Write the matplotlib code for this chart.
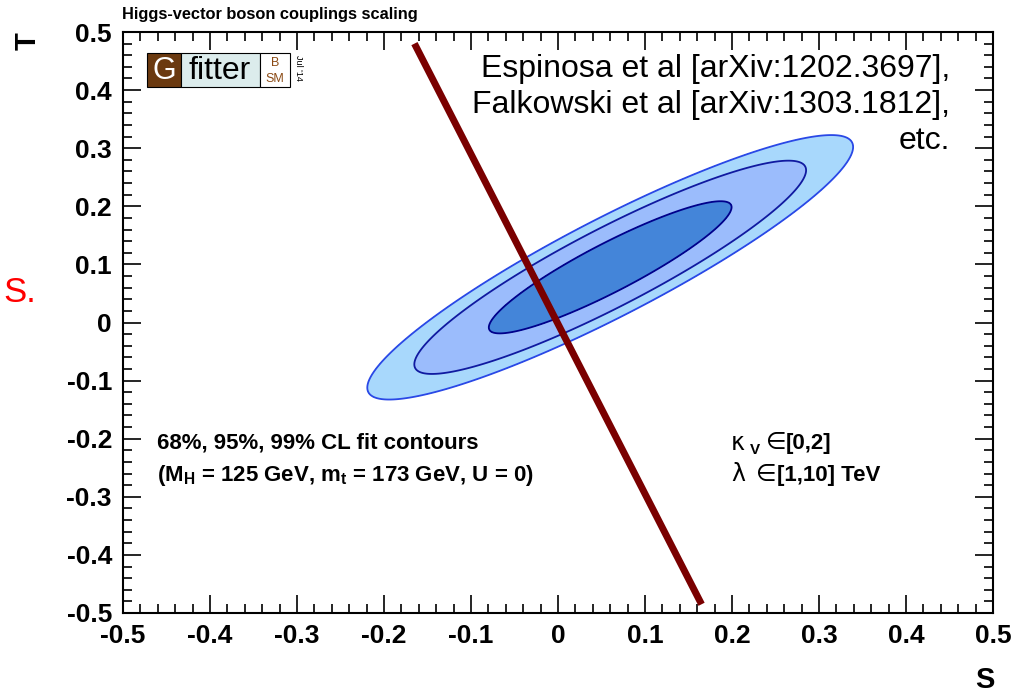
import numpy as np
import matplotlib.pyplot as plt
from matplotlib.patches import Rectangle
from matplotlib.ticker import FixedLocator, MultipleLocator

plt.rcParams['font.family'] = ['Liberation Sans', 'DejaVu Sans']
plt.rcParams['mathtext.fontset'] = 'custom'
plt.rcParams['mathtext.rm'] = 'Liberation Sans:bold'
plt.rcParams['mathtext.it'] = 'Liberation Sans:bold'
plt.rcParams['mathtext.bf'] = 'Liberation Sans:bold'

# S,T fit result (U = 0)
s_best = 0.06
t_best = 0.095
s_err = 0.092
t_err = 0.075
corr = 0.91
dchi2 = [2.30, 5.99, 9.21]          # 68%, 95%, 99% CL in 2D
fill_cols = ['#4485d9', '#9bbcfc', '#a8d8fc']
edge_cols = ['#00008b', '#101aa0', '#2a48e6']

# Higgs-vector coupling scaling line (end points)
line_s = [-0.165, 0.165]
line_t = [0.48, -0.485]

tick_vals = [-0.5, -0.4, -0.3, -0.2, -0.1, 0.0, 0.1, 0.2, 0.3, 0.4, 0.5]
tick_labels = ['-0.5', '-0.4', '-0.3', '-0.2', '-0.1', '0', '0.1', '0.2', '0.3', '0.4', '0.5']

W, H = 1012, 694
fig = plt.figure(figsize=(W / 100, H / 100), dpi=100)

def fx(x):
    return x / W

def fy(y):
    return 1 - y / H

ax = fig.add_axes([fx(123), fy(613), fx(993) - fx(123), fy(32) - fy(613)])
ax.set_xlim(-0.5, 0.5)
ax.set_ylim(-0.5, 0.5)

# chi2 surface of the 2D gaussian fit result
s = np.linspace(-0.5, 0.5, 600)
t = np.linspace(-0.5, 0.5, 600)
S, T = np.meshgrid(s, t)
ds = (S - s_best) / s_err
dt = (T - t_best) / t_err
chi2 = (ds**2 - 2 * corr * ds * dt + dt**2) / (1 - corr**2)

for lev, fc in zip(dchi2[::-1], fill_cols[::-1]):
    ax.contourf(S, T, chi2, levels=[0, lev], colors=[fc])
for lev, ec in zip(dchi2, edge_cols):
    ax.contour(S, T, chi2, levels=[lev], colors=[ec], linewidths=1.3)

ax.plot(line_s, line_t, color='#7a0000', lw=5, solid_capstyle='butt')

# axes in ROOT style
for sp in ax.spines.values():
    sp.set_linewidth(1.5)
ax.xaxis.set_major_locator(FixedLocator(tick_vals))
ax.yaxis.set_major_locator(FixedLocator(tick_vals))
ax.set_xticklabels(tick_labels)
ax.set_yticklabels(tick_labels)
ax.xaxis.set_minor_locator(MultipleLocator(0.02))
ax.yaxis.set_minor_locator(MultipleLocator(0.02))
ax.tick_params(axis='both', which='both', direction='in', top=True, right=True, width=1.2)
ax.tick_params(axis='x', which='major', length=13, pad=8)
ax.tick_params(axis='x', which='minor', length=6.5)
ax.tick_params(axis='y', which='major', length=13, pad=8)
ax.tick_params(axis='y', which='minor', length=6.5)
for lab in ax.get_xticklabels() + ax.get_yticklabels():
    lab.set_fontsize(19)
    lab.set_fontweight('bold')

fig.text(fx(122), fy(15), 'Higgs-vector boson couplings scaling', fontsize=11.8,
         fontweight='bold', ha='left', va='center')
fig.text(fx(28), fy(41), 'T', fontsize=21, fontweight='bold', rotation=90, ha='center', va='center')
fig.text(fx(985), fy(680), 'S', fontsize=21, fontweight='bold', ha='center', va='center')
fig.text(fx(3), fy(292), 'S.', fontsize=25, color='red', ha='left', va='center')

# Gfitter logo
logo = [(147, 181, '#6b3a10'), (181, 260, '#dcecec'), (260, 290, 'white')]
for x0, x1, c in logo:
    fig.patches.append(Rectangle((fx(x0), fy(87)), fx(x1) - fx(x0), fy(53) - fy(87),
                                 transform=fig.transFigure, facecolor=c,
                                 edgecolor='black', lw=0.8))
fig.text(fx(164), fy(71), 'G', fontsize=22, color='white', ha='center', va='center')
fig.text(fx(220), fy(71), 'fitter', fontsize=23, color='black', ha='center', va='center')
fig.text(fx(275), fy(63), 'B', fontsize=9, color='#8b4a14', ha='center', va='center')
fig.text(fx(275), fy(79), 'SM', fontsize=9, color='#8b4a14', ha='center', va='center')
fig.text(fx(298), fy(68), "Jul '14", fontsize=6.5, rotation=-90, ha='center', va='center')

# references
refs = ['Espinosa et al [arXiv:1202.3697],', 'Falkowski et al [arXiv:1303.1812],', 'etc.']
for i, r in enumerate(refs):
    fig.text(fx(950), fy(69 + 36 * i), r, fontsize=23, ha='right', va='center')

fig.text(fx(157), fy(443), '68%, 95%, 99% CL fit contours', fontsize=16,
         fontweight='bold', ha='left', va='center')
fig.text(fx(157), fy(475), '(M$_{H}$ = 125 GeV, m$_{t}$ = 173 GeV, U = 0)', fontsize=16,
         fontweight='bold', ha='left', va='center')

fig.text(fx(731), fy(443), 'κ', fontsize=17, ha='left', va='center', family='DejaVu Sans')
fig.text(fx(750), fy(450), 'V', fontsize=11, fontweight='bold', ha='left', va='center')
fig.text(fx(766), fy(442), '∈', fontsize=17, ha='left', va='center', family='DejaVu Sans')
fig.text(fx(786), fy(443), '[0,2]', fontsize=16, fontweight='bold', ha='left', va='center')
fig.text(fx(731), fy(474), 'λ', fontsize=17, ha='left', va='center', family='DejaVu Sans')
fig.text(fx(756), fy(474), '∈', fontsize=17, ha='left', va='center', family='DejaVu Sans')
fig.text(fx(777), fy(475), '[1,10] TeV', fontsize=16, fontweight='bold', ha='left', va='center')

fig.savefig('out.png', dpi=100)
